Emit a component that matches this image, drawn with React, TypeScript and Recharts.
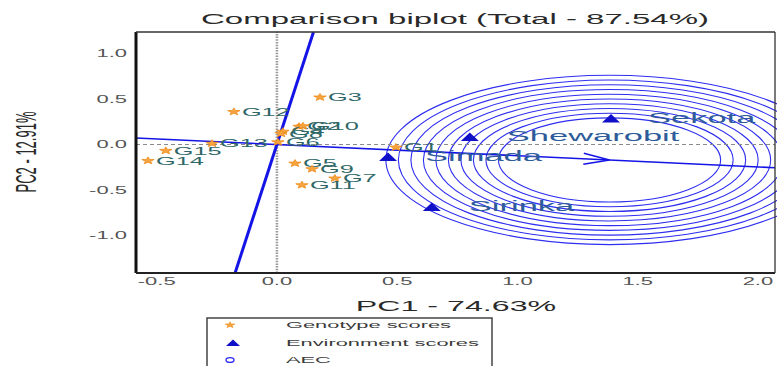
import React from 'react';
import {
  ScatterChart,
  Scatter,
  XAxis,
  YAxis,
  ReferenceLine,
  ReferenceArea,
  ReferenceDot,
} from 'recharts';

// ---------- data ----------
const GENOTYPES = ['G1', 'G2', 'G3', 'G4', 'G5', 'G6', 'G7', 'G8', 'G9', 'G10', 'G11', 'G12', 'G13', 'G14', 'G15'];
const GEN_PC1 = [0.495, 0.092, 0.179, 0.025, 0.075, 0.004, 0.241, 0.017, 0.146, 0.108, 0.104, -0.179, -0.27, -0.536, -0.462];
const GEN_PC2 = [-0.031, 0.198, 0.519, 0.143, -0.207, 0.027, -0.371, 0.12, -0.269, 0.203, -0.445, 0.36, 0.011, -0.178, -0.068];

const ENVIRONMENTS = ['Sekota', 'Shewarobit', 'Simada', 'Sirinka'];
const ENV_PC1 = [1.389, 0.802, 0.462, 0.644];
const ENV_PC2 = [0.286, 0.082, -0.137, -0.687];

const X_TICKS = [-0.5, 0, 0.5, 1, 1.5, 2];
const Y_TICKS = [-1, -0.5, 0, 0.5, 1];
const X_DOMAIN = [-0.586, 2.071];
const Y_DOMAIN = [-1.412, 1.236];

// AEC abscissa (through origin) and its perpendicular
const AEC_LINE = [
  { x: -0.586, y: 0.072 },
  { x: 2.071, y: -0.255 },
];
const AEC_PERP = [
  { x: -0.174, y: -1.412 },
  { x: 0.152, y: 1.236 },
];
const AEC_CENTER = { x: 1.383, y: -0.17 };
const AEC_RADII = [0.462, 0.514, 0.566, 0.618, 0.67, 0.722, 0.774, 0.826, 0.878, 0.93];

const TITLE = 'Comparison biplot (Total - 87.54%)';
const X_TITLE = 'PC1 - 74.63%';
const Y_TITLE = 'PC2 - 12.91%';
const LEGEND_ITEMS = ['Genotype scores', 'Environment scores', 'AEC'];

const genotypeData = GENOTYPES.map((name, i) => ({ name, x: GEN_PC1[i], y: GEN_PC2[i] }));
const envData = ENVIRONMENTS.map((name, i) => ({ name, x: ENV_PC1[i], y: ENV_PC2[i] }));

// ---------- styles ----------
const FONT = '"Liberation Sans", Arial, Helvetica, sans-serif';
const SX = 2.3;
const ORANGE = '#F7A43E';
const ORANGE_DARK = '#EE8A1A';
const BLUE = '#1414E6';
const TRI_BLUE = '#1010C8';
const GEN_TEXT = '#2F6767';
const ENV_TEXT = '#2E5C9A';

function starPath(cx: number, cy: number, rx: number, ry: number) {
  let d = '';
  for (let i = 0; i < 10; i++) {
    const a = ((-90 + i * 36) * Math.PI) / 180;
    const r = i % 2 === 0 ? 1 : 0.42;
    const px = cx + rx * r * Math.cos(a);
    const py = cy + ry * r * Math.sin(a);
    d += (i === 0 ? 'M' : 'L') + px.toFixed(2) + ',' + py.toFixed(2);
  }
  return d + 'Z';
}

const GenotypeShape = (p: any) => {
  const { cx, cy } = p;
  const name = p.payload?.name ?? p.name;
  if (cx == null || cy == null) return null;
  return (
    <g>
      <path d={starPath(cx, cy, 6.5, 3.8)} fill={ORANGE} stroke={ORANGE_DARK} strokeWidth={0.8} />
      <text
        transform={`translate(${cx + 8},${cy}) scale(${SX},1)`}
        dy="0.36em"
        fontSize={11}
        fontFamily={FONT}
        fill={GEN_TEXT}
      >
        {name}
      </text>
    </g>
  );
};

const EnvShape = (p: any) => {
  const { cx, cy } = p;
  const name = p.payload?.name ?? p.name;
  if (cx == null || cy == null) return null;
  return (
    <g>
      <polygon
        points={`${cx - 9},${cy + 4} ${cx + 9},${cy + 4} ${cx},${cy - 4.5}`}
        fill={TRI_BLUE}
      />
      <text
        transform={`translate(${cx + 37},${cy - 1}) scale(${SX},1)`}
        dy="0.36em"
        fontSize={15}
        fontFamily={FONT}
        fill={ENV_TEXT}
      >
        {name}
      </text>
    </g>
  );
};

const XTick = (p: any) => {
  const { x, y, payload } = p;
  return (
    <text
      transform={`translate(${x},${y + 4}) scale(2.2,1)`}
      textAnchor="middle"
      fontSize={10}
      fontFamily={FONT}
      fill="#555"
    >
      {Number(payload.value).toFixed(1)}
    </text>
  );
};

const YTick = (p: any) => {
  const { x, y, payload } = p;
  return (
    <text
      transform={`translate(${x - 1},${y}) scale(2.2,1)`}
      textAnchor="end"
      dy="0.36em"
      fontSize={10}
      fontFamily={FONT}
      fill="#555"
    >
      {Number(payload.value).toFixed(1)}
    </text>
  );
};

const AecEllipse = (p: any) => {
  const { x, y, width, height } = p;
  if ([x, y, width, height].some((v) => v == null || isNaN(v))) return null;
  const w = Math.abs(width);
  const h = Math.abs(height);
  const left = width < 0 ? x + width : x;
  const top = height < 0 ? y + height : y;
  return (
    <ellipse
      cx={left + w / 2}
      cy={top + h / 2}
      rx={w / 2}
      ry={h / 2}
      fill="none"
      stroke="#2E2EF0"
      strokeWidth={1.1}
    />
  );
};

const ArrowHead = (p: any) => {
  const { cx, cy } = p;
  if (cx == null || cy == null) return null;
  return (
    <polyline
      points={`${cx - 26},${cy - 5.5} ${cx},${cy} ${cx - 26},${cy + 5.5}`}
      transform={`rotate(2.7 ${cx} ${cy})`}
      fill="none"
      stroke={BLUE}
      strokeWidth={1.5}
    />
  );
};

export default function App() {
  return (
    <div
      style={{
        position: 'fixed',
        left: 0,
        top: 0,
        width: 777,
        height: 366,
        background: '#fff',
        overflow: 'hidden',
        fontFamily: FONT,
      }}
    >
      <ScatterChart width={777} height={366} margin={{ top: 32, right: 2, bottom: 63, left: 76 }}>
        <XAxis
          type="number"
          dataKey="x"
          domain={X_DOMAIN}
          ticks={X_TICKS}
          tick={<XTick />}
          axisLine={false}
          tickLine={false}
          allowDataOverflow
          height={30}
          interval={0}
        />
        <YAxis
          type="number"
          dataKey="y"
          domain={Y_DOMAIN}
          ticks={Y_TICKS}
          tick={<YTick />}
          axisLine={false}
          tickLine={false}
          allowDataOverflow
          width={60}
          interval={0}
        />

        {AEC_RADII.map((r, i) => (
          <ReferenceArea
            key={'aec' + i}
            x1={AEC_CENTER.x - r}
            x2={AEC_CENTER.x + r}
            y1={AEC_CENTER.y - r}
            y2={AEC_CENTER.y + r}
            ifOverflow="hidden"
            shape={<AecEllipse />}
          />
        ))}

        <ReferenceLine y={0} stroke="#8a8a8a" strokeWidth={1.1} strokeDasharray="4 3" />
        <ReferenceLine x={0} stroke="#9a9a9a" strokeWidth={2.6} strokeDasharray="1.5 1.2" />

        <ReferenceLine segment={AEC_LINE} stroke={BLUE} strokeWidth={1.6} ifOverflow="hidden" />
        <ReferenceLine segment={AEC_PERP} stroke={BLUE} strokeWidth={3} ifOverflow="hidden" />
        <ReferenceDot x={AEC_CENTER.x} y={AEC_CENTER.y} ifOverflow="visible" shape={<ArrowHead />} />

        <Scatter data={genotypeData} shape={<GenotypeShape />} isAnimationActive={false} />
        <Scatter data={envData} shape={<EnvShape />} isAnimationActive={false} />

        {/* plot frame */}
        <ReferenceLine x={X_DOMAIN[0]} stroke="#111" strokeWidth={3} ifOverflow="visible" />
        <ReferenceLine y={Y_DOMAIN[0]} stroke="#222" strokeWidth={2.2} ifOverflow="visible" />
        <ReferenceLine y={Y_DOMAIN[1]} stroke="#333" strokeWidth={1.3} ifOverflow="visible" />
        <ReferenceLine x={X_DOMAIN[1]} stroke="#333" strokeWidth={1.3} ifOverflow="visible" />
      </ScatterChart>

      <svg
        width={777}
        height={366}
        style={{ position: 'absolute', left: 0, top: 0, pointerEvents: 'none' }}
      >
        <text
          transform={`translate(455,24) scale(2.2,1)`}
          textAnchor="middle"
          fontSize={15}
          fontFamily={FONT}
          fill="#2a2a2a"
        >
          {TITLE}
        </text>
        <text
          transform={`translate(456,311) scale(${SX},1)`}
          textAnchor="middle"
          fontSize={14}
          fontFamily={FONT}
          fill="#2a2a2a"
        >
          {X_TITLE}
        </text>
        <text
          transform={`translate(36,152) scale(2.2,1) rotate(-90)`}
          textAnchor="middle"
          fontSize={13}
          fontFamily={FONT}
          fill="#2a2a2a"
        >
          {Y_TITLE}
        </text>

        {/* legend */}
        <rect x={207} y={318} width={285} height={70} fill="#fff" stroke="#444" strokeWidth={1.5} />
        <path d={starPath(230, 325, 5, 3.2)} fill={ORANGE} stroke={ORANGE_DARK} strokeWidth={0.6} />
        <polygon points="226,346 240,346 233,339.5" fill={TRI_BLUE} />
        <ellipse cx={230} cy={360} rx={4} ry={2.4} fill="none" stroke="#2E2EF0" strokeWidth={1.4} />
        {LEGEND_ITEMS.map((t, i) => (
          <text
            key={t}
            transform={`translate(286,${325 + i * 17.5}) scale(${SX},1)`}
            dy="0.36em"
            fontSize={9.5}
            fontFamily={FONT}
            fill="#3a3a3a"
          >
            {t}
          </text>
        ))}
      </svg>
    </div>
  );
}
